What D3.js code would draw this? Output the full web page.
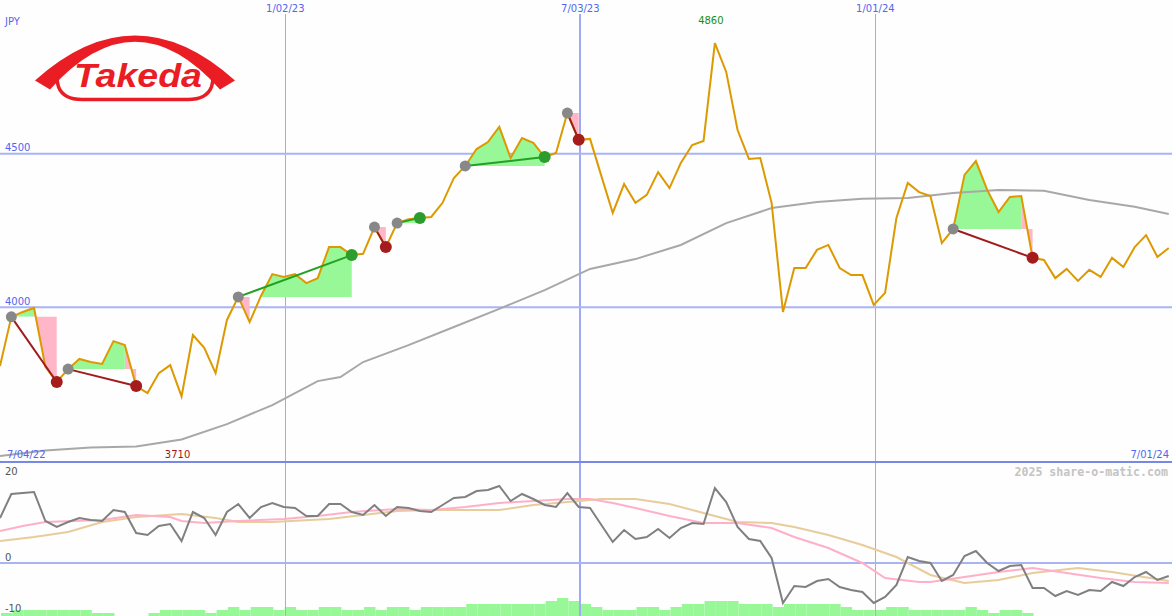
<!DOCTYPE html>
<html><head><meta charset="utf-8">
<script src="https://cdn.jsdelivr.net/npm/d3@7"></script>
<style>html,body{margin:0;padding:0;background:#fdfefd;} svg{display:block;}</style>
</head><body>
<svg id="c" width="1172" height="616"></svg>
<script>
// ---------- data ----------
const startDate = new Date(Date.UTC(2022, 6, 10));
const endDate = new Date(Date.UTC(2024, 6, 2));
const weekDates = d3.utcSunday.range(startDate, new Date(Date.UTC(2024, 6, 1)));

const price = [3809,3969,3985,3998,3806,3757,3799,3832,3822,3816,
  3890,3877,3744,3721,3786,3812,3710,3910,3868,3786,
  3959,4034,3952,4037,4108,4099,4108,4079,4095,4196,
  4196,4170,4174,4261,4196,4274,4287,4291,4294,4340,
  4421,4460,4515,4538,4587,4486,4551,4535,4489,4502,
  4632,4545,4548,4427,4307,4401,4340,4366,4440,4388,
  4470,4528,4541,4860,4766,4577,4483,4486,4340,3985,
  4128,4128,4187,4203,4128,4105,4105,4008,4047,4291,
  4405,4375,4362,4209,4255,4431,4476,4382,4310,4359,
  4362,4161,4154,4095,4125,4086,4122,4099,4161,4131,
  4196,4235,4164,4193];

// long moving average (week index, value)
const maWeek = [0,4,8,12,16,20,24,28,30,32,36,40,44,48,52,56,60,64,68,72,76,80,84,88,92,96,100,103];
const maValue = [3516,3534,3544,3547,3570,3620,3682,3760,3773,3822,3877,3936,3995,4056,4125,4157,4203,4274,4323,4343,4353,4356,4372,4382,4379,4349,4327,4304];

// oscillator (lower panel)
const osc = [9.0,13.8,14.0,14.2,8.4,7.2,8.2,9.0,8.6,8.4,
  10.6,10.2,6.0,5.6,7.4,7.8,4.4,10.2,9.0,5.6,
  10.2,11.8,9.0,11.2,12.0,11.2,11.0,9.4,9.4,11.8,
  11.8,10.2,9.6,11.6,9.4,11.2,11.0,10.4,10.2,11.6,
  13.0,13.2,14.4,14.6,15.4,12.4,13.8,12.8,11.6,11.2,
  14.0,11.2,11.0,7.6,4.2,6.6,4.8,5.2,6.8,5.0,
  7.0,8.0,7.8,15.0,12.2,7.2,4.8,4.4,1.0,-8.0,
  -4.6,-4.8,-3.6,-3.2,-4.8,-5.4,-5.8,-8.0,-6.8,-4.4,
  1.2,0.4,0,-3.6,-2.4,1.4,2.4,0,-1.6,-0.6,
  -0.4,-5.0,-5.0,-6.6,-5.6,-6.4,-5.4,-5.6,-3.8,-4.6,
  -2.8,-1.8,-3.4,-2.6];

const pinkWeek = [0,2,4,9,12,15,16,18,21,25,28,31,35,38,41,44,47,50,52,54,56,59,62,65,68,70,73,76,78,81,82,85,88,91,94,97,100,103];
const pinkValue = [6.4,7.4,8.2,8.6,9.6,9.2,8.4,8.0,8.4,8.8,9.4,10.2,10.8,10.6,11.2,12.0,12.4,12.8,12.8,12.0,11.0,9.4,8.0,8.0,7.0,5.2,3.0,0,-3.0,-3.8,-3.8,-2.8,-1.8,-1.0,-2.0,-3.0,-3.8,-4.0];

const tanWeek = [0,3,6,9,12,16,19,21,24,29,35,38,44,47,50,53,56,59,62,65,68,70,73,76,79,82,85,88,91,95,98,103];
const tanValue = [4.4,5.2,6.2,8.2,9.2,9.8,9.0,8.2,8.2,8.8,10.4,10.6,10.6,11.6,12.2,12.8,12.8,11.8,10.0,8.2,8.0,7.2,5.6,3.6,1.2,-2.4,-4.0,-3.4,-2.0,-1.0,-1.8,-3.6];

// volume (millions), weeks 0..90
const volume = [10,20,20,20,20,20,20,20,10,10,
  0,0,0,10,20,20,20,20,10,20,
  30,20,30,30,20,30,20,20,30,30,
  20,20,30,20,30,30,20,30,30,30,
  30,40,40,40,40,40,40,40,50,60,
  50,40,30,20,20,20,30,30,20,30,
  40,40,50,50,50,40,40,40,30,40,
  40,40,40,40,30,20,20,20,30,30,
  20,20,20,20,20,30,20,10,20,20,
  10];

// trend annotations (week index of start / end)
const trendFrom = [1, 6, 21, 33, 35, 41, 50, 84];
const trendTo   = [5, 12, 31, 34, 37, 48, 51, 91];

const gridDates = [new Date(Date.UTC(2023,0,2)), new Date(Date.UTC(2023,6,3)), new Date(Date.UTC(2024,0,1))];
const cornerDates = [new Date(Date.UTC(2022,6,4)), new Date(Date.UTC(2024,6,1))];
const priceTicks = [4000, 4500];
const oscTicks = [20, 0, -10];
const currency = "JPY";
const credit = "2025 share-o-matic.com";

// ---------- scales ----------
const W = 1172, H = 616;
const x = d3.scaleUtc().domain([startDate, endDate]).range([0, W]);
const y = d3.scaleLinear().domain([3500, 5000]).range([461, 0]);
const y2 = d3.scaleLinear().domain([-10, 20]).range([613, 463]);
const yv = d3.scaleLinear().domain([0, 100]).range([616, 586]);
const fmt = d3.utcFormat("%-m/%d/%y");

const svg = d3.select("#c");
svg.append("rect").attr("width", W).attr("height", H).attr("fill", "#fdfefd");

const lblFont = "DejaVu Sans, sans-serif";

// ---------- volume bars ----------
svg.append("g").selectAll("rect").data(volume).join("rect")
  .attr("x", (d, i) => x(weekDates[i]) + 1)
  .attr("width", (d, i) => x(weekDates[i + 1]) - x(weekDates[i]))
  .attr("y", d => yv(d))
  .attr("height", d => yv(0) - yv(d))
  .attr("fill", "#98f898");

// ---------- grid ----------
svg.append("g").selectAll("line").data(gridDates).join("line")
  .attr("x1", d => Math.round(x(d)) + (d === gridDates[1] ? 0 : 0.5))
  .attr("x2", d => Math.round(x(d)) + (d === gridDates[1] ? 0 : 0.5))
  .attr("y1", 14).attr("y2", H)
  .attr("stroke", "#9eaaf6").attr("stroke-width", (d, i) => i === 1 ? 2 : 1);

svg.append("g").selectAll("line").data(priceTicks).join("line")
  .attr("x1", 0).attr("x2", W)
  .attr("y1", d => y(d)).attr("y2", d => y(d))
  .attr("stroke", "#a8b4f4").attr("stroke-width", 2);

svg.append("line").attr("x1", 0).attr("x2", W).attr("y1", y2(0)).attr("y2", y2(0))
  .attr("stroke", "#a8b4f4").attr("stroke-width", 2);
svg.append("line").attr("x1", 0).attr("x2", W).attr("y1", 462).attr("y2", 462)
  .attr("stroke", "#7888e8").attr("stroke-width", 2);

// ---------- trend fills ----------
const fills = svg.append("g");
const defs = svg.append("defs");
trendFrom.forEach((a, t) => {
  const b = trendTo[t];
  const level = price[a];
  const up = price[b] > level;
  let j = a;
  for (let i = a; i < b; i++) {
    if (up ? price[i] < level : price[i] > level) j = i;
  }
  const area = d3.area()
    .x(i => x(weekDates[i]))
    .y0(y(level))
    .y1(i => y(price[i]));
  const cid = "clipT" + t;
  defs.append("clipPath").attr("id", cid).append("rect")
    .attr("x", 0).attr("y", 0).attr("width", W).attr("height", y(level));
  const greenIdx = up ? d3.range(j, b + 1) : d3.range(a, j + 1);
  const pinkIdx = up ? d3.range(a, j + 1) : d3.range(j, b + 1);
  if (pinkIdx.length > 1)
    fills.append("path").attr("d", area(pinkIdx)).attr("fill", "#ffb6c8");
  if (greenIdx.length > 1)
    fills.append("path").attr("d", area(greenIdx)).attr("fill", "#98f898")
      .attr("clip-path", `url(#${cid})`);
});

// ---------- moving average ----------
svg.append("path")
  .attr("d", d3.line().x((d, i) => x(weekDates[maWeek[i]])).y(d => y(d))(maValue))
  .attr("fill", "none").attr("stroke", "#a8a8a8").attr("stroke-width", 2);

// ---------- price ----------
svg.append("path")
  .attr("d", d3.line().x((d, i) => x(weekDates[i])).y(d => y(d))(price))
  .attr("fill", "none").attr("stroke", "#dd9900").attr("stroke-width", 2)
  .attr("stroke-linejoin", "miter");

// ---------- trend lines & dots ----------
const tg = svg.append("g");
trendFrom.forEach((a, t) => {
  const b = trendTo[t];
  const up = price[b] > price[a];
  tg.append("line")
    .attr("x1", x(weekDates[a])).attr("y1", y(price[a]))
    .attr("x2", x(weekDates[b])).attr("y2", y(price[b]))
    .attr("stroke", up ? "#24a024" : "#a01c1c").attr("stroke-width", 2);
});
trendFrom.forEach((a, t) => {
  const b = trendTo[t];
  const up = price[b] > price[a];
  tg.append("circle").attr("cx", x(weekDates[a])).attr("cy", y(price[a])).attr("r", 5.5)
    .attr("fill", "#888888");
  tg.append("circle").attr("cx", x(weekDates[b])).attr("cy", y(price[b])).attr("r", 6)
    .attr("fill", up ? "#2c9c2c" : "#a41c1c");
});

// ---------- lower panel lines ----------
svg.append("path")
  .attr("d", d3.line().x((d, i) => x(weekDates[tanWeek[i]])).y(d => y2(d))(tanValue))
  .attr("fill", "none").attr("stroke", "#e8cc9c").attr("stroke-width", 2);
svg.append("path")
  .attr("d", d3.line().x((d, i) => x(weekDates[pinkWeek[i]])).y(d => y2(d))(pinkValue))
  .attr("fill", "none").attr("stroke", "#ffb0c8").attr("stroke-width", 2);
svg.append("path")
  .attr("d", d3.line().x((d, i) => x(weekDates[i])).y(d => y2(d))(osc))
  .attr("fill", "none").attr("stroke", "#808080").attr("stroke-width", 2);

// ---------- texts ----------
const txt = svg.append("g").attr("font-family", lblFont).attr("font-size", 10);
txt.append("text").attr("x", 5).attr("y", 25).attr("fill", "#5266ee").text(currency);
txt.selectAll(".pt").data(priceTicks).join("text")
  .attr("x", 5).attr("y", d => y(d) - 2.5).attr("fill", "#5266ee").text(d => d);
txt.selectAll(".gd").data(gridDates).join("text")
  .attr("x", d => x(d)).attr("y", 12).attr("text-anchor", "middle")
  .attr("fill", "#5266ee").text(d => fmt(d));
txt.append("text").attr("x", 7).attr("y", 458).attr("fill", "#5266ee").text(fmt(cornerDates[0]));
txt.append("text").attr("x", 1169).attr("y", 458).attr("text-anchor", "end")
  .attr("fill", "#5266ee").text(fmt(cornerDates[1]));
const oscLabelY = {"20": 475, "0": 561, "-10": 612};
txt.selectAll(".ot").data(oscTicks).join("text")
  .attr("x", 5).attr("y", d => oscLabelY[String(d)]).attr("fill", "#555555").text(d => d);

const iMax = d3.maxIndex(price), iMin = d3.minIndex(price);
txt.append("text").attr("x", x(weekDates[iMax]) - 4).attr("y", 24).attr("text-anchor", "middle")
  .attr("fill", "#169016").text(price[iMax]);
txt.append("text").attr("x", x(weekDates[iMin]) - 4).attr("y", 458).attr("text-anchor", "middle")
  .attr("fill", "#a01818").text(price[iMin]);

svg.append("text").attr("x", 1168).attr("y", 476).attr("text-anchor", "end")
  .attr("font-family", "DejaVu Sans Mono, monospace").attr("font-weight", "bold")
  .attr("font-size", 11.6).attr("fill", "#c4c4c4").text(credit);

// ---------- logo ----------
const logo = svg.append("g").attr("fill", "#ea1c24");
logo.append("path").attr("d", "M35,80.5 Q135,-9.5 235,80.5 L220,89.5 Q135,-6 50,89.5 Z");
logo.append("path").attr("d", "M62,66 C53,77 55,99.5 82,99.5 L188,99.5 C215,99.5 217,77 208,66")
  .attr("fill", "none").attr("stroke", "#ea1c24").attr("stroke-width", 3.5);
logo.append("text").attr("x", 74).attr("y", 87)
  .attr("font-family", "Liberation Sans, Arial, sans-serif").attr("font-weight", "bold")
  .attr("font-style", "italic").attr("font-size", 34)
  .attr("textLength", 128).attr("lengthAdjust", "spacingAndGlyphs").text("Takeda");
</script>
</body></html>
